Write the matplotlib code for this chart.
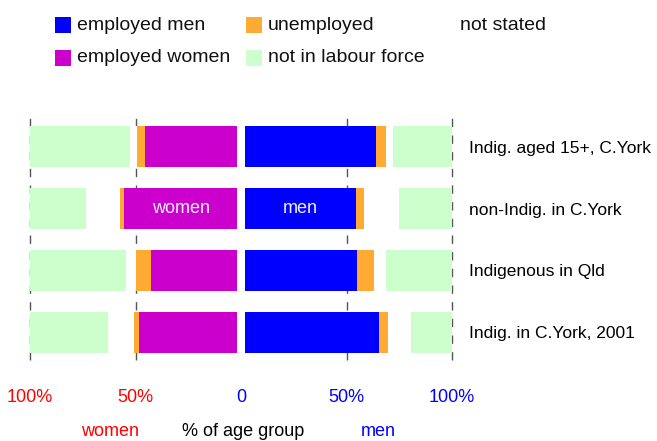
import matplotlib
matplotlib.use("Agg")
import matplotlib.pyplot as plt
from matplotlib.patches import Rectangle
from matplotlib.transforms import blended_transform_factory

plt.rcParams['font.family'] = ['Liberation Sans', 'DejaVu Sans']

# Rows (top to bottom)
groups = ["Indig. aged 15+, C.York", "non-Indig. in C.York",
          "Indigenous in Qld", "Indig. in C.York, 2001"]

# % of age group: employed, unemployed, not stated, not in labour force
women_employed   = [45.6, 55.5, 42.7, 48.4]
women_unemployed = [3.8, 1.9, 7.2, 2.4]
women_notstated  = [3.4, 16.2, 4.7, 12.3]
women_nilf       = [47.2, 26.4, 45.4, 36.9]

men_employed   = [63.9, 54.3, 54.9, 65.3]
men_unemployed = [4.7, 3.9, 8.0, 4.3]
men_notstated  = [3.3, 16.6, 5.7, 10.9]
men_nilf       = [28.1, 25.2, 31.4, 19.5]

tick_vals = [-100, -50, 0, 50, 100]
tick_labels = ["100%", "50%", "0", "50%", "100%"]
tick_colors = ["#ff0000", "#ff0000", "#0000ff", "#0000ff", "#0000ff"]

C_MEN = "#0000ff"
C_WOMEN = "#cc00cc"
C_UNEMP = "#ffaa33"
C_NS = "#ffffff"
C_NILF = "#ccffcc"

W, H = 657, 441
fig = plt.figure(figsize=(W / 100, H / 100), dpi=100)
ax_l, ax_r = 30 / W, 452 / W
ax_t, ax_b = 116 / H, 360 / H
ax = fig.add_axes([ax_l, 1 - ax_b, ax_r - ax_l, ax_b - ax_t])

gap = 1.8
bh = 0.665
n = len(groups)
ypos = [n - 1 - i for i in range(n)]

for i in range(n):
    y = ypos[i]
    # men (positive side)
    segs_m = [(men_employed[i], C_MEN), (men_unemployed[i], C_UNEMP),
              (men_notstated[i], C_NS), (men_nilf[i], C_NILF)]
    start = 0.0
    for v, c in segs_m:
        left = max(start, gap)
        ax.barh(y, start + v - left, left=left, height=bh, color=c,
                edgecolor='none', zorder=3)
        start += v
    segs_w = [(women_employed[i], C_WOMEN), (women_unemployed[i], C_UNEMP),
              (women_notstated[i], C_NS), (women_nilf[i], C_NILF)]
    start = 0.0
    for v, c in segs_w:
        left = max(start, gap)
        ax.barh(y, -(start + v - left), left=-left, height=bh, color=c,
                edgecolor='none', zorder=3)
        start += v

# labels inside second row
ax.text(-(gap + women_employed[1]) / 2, ypos[1], "women", color="#f4f0ff",
        ha="center", va="center", fontsize=13, zorder=5)
ax.text((gap + men_employed[1]) / 2, ypos[1], "men", color="#f4f0ff",
        ha="center", va="center", fontsize=13, zorder=5)

for xv in [-100, -50, 50, 100]:
    ax.axvline(xv, color="#555555", lw=1.0, dashes=(6, 6), zorder=1,
               clip_on=False)

ax.set_xlim(-100, 100)
ax.set_ylim(-0.45, n - 0.5)
for s in ax.spines.values():
    s.set_visible(False)

ax.set_xticks(tick_vals)
ax.set_xticklabels(tick_labels, fontsize=13)
for lab, c in zip(ax.get_xticklabels(), tick_colors):
    lab.set_color(c)
ax.tick_params(axis='x', length=0, pad=21)

ax.set_yticks(ypos)
ax.set_yticklabels(groups, fontsize=12.5)
ax.yaxis.tick_right()
ax.tick_params(axis='y', length=0, pad=12)

# bottom axis captions
tr = blended_transform_factory(ax.transData, fig.transFigure)
yb = 1 - 431 / H
ax.text(-62, yb, "women", color="#ff0000", ha="center", va="center",
        fontsize=13, transform=tr)
ax.text(0.8, yb, "% of age group", color="black", ha="center", va="center",
        fontsize=13, transform=tr)
ax.text(65, yb, "men", color="#0000ff", ha="center", va="center",
        fontsize=13, transform=tr)

# legend (manual)
legend_items = [("employed men", C_MEN, 55, 25), ("employed women", C_WOMEN, 55, 58),
                ("unemployed", C_UNEMP, 246, 25), ("not in labour force", C_NILF, 246, 58),
                ("not stated", C_NS, 438, 25)]
for label, c, px, py in legend_items:
    fig.patches.append(Rectangle((px / W, 1 - (py + 8) / H), 16 / W, 16 / H,
                                 transform=fig.transFigure, facecolor=c,
                                 edgecolor='none'))
    fig.text((px + 22) / W, 1 - py / H, label, ha="left", va="center",
             fontsize=14, color="#111111")

fig.savefig("out.png", dpi=100)
